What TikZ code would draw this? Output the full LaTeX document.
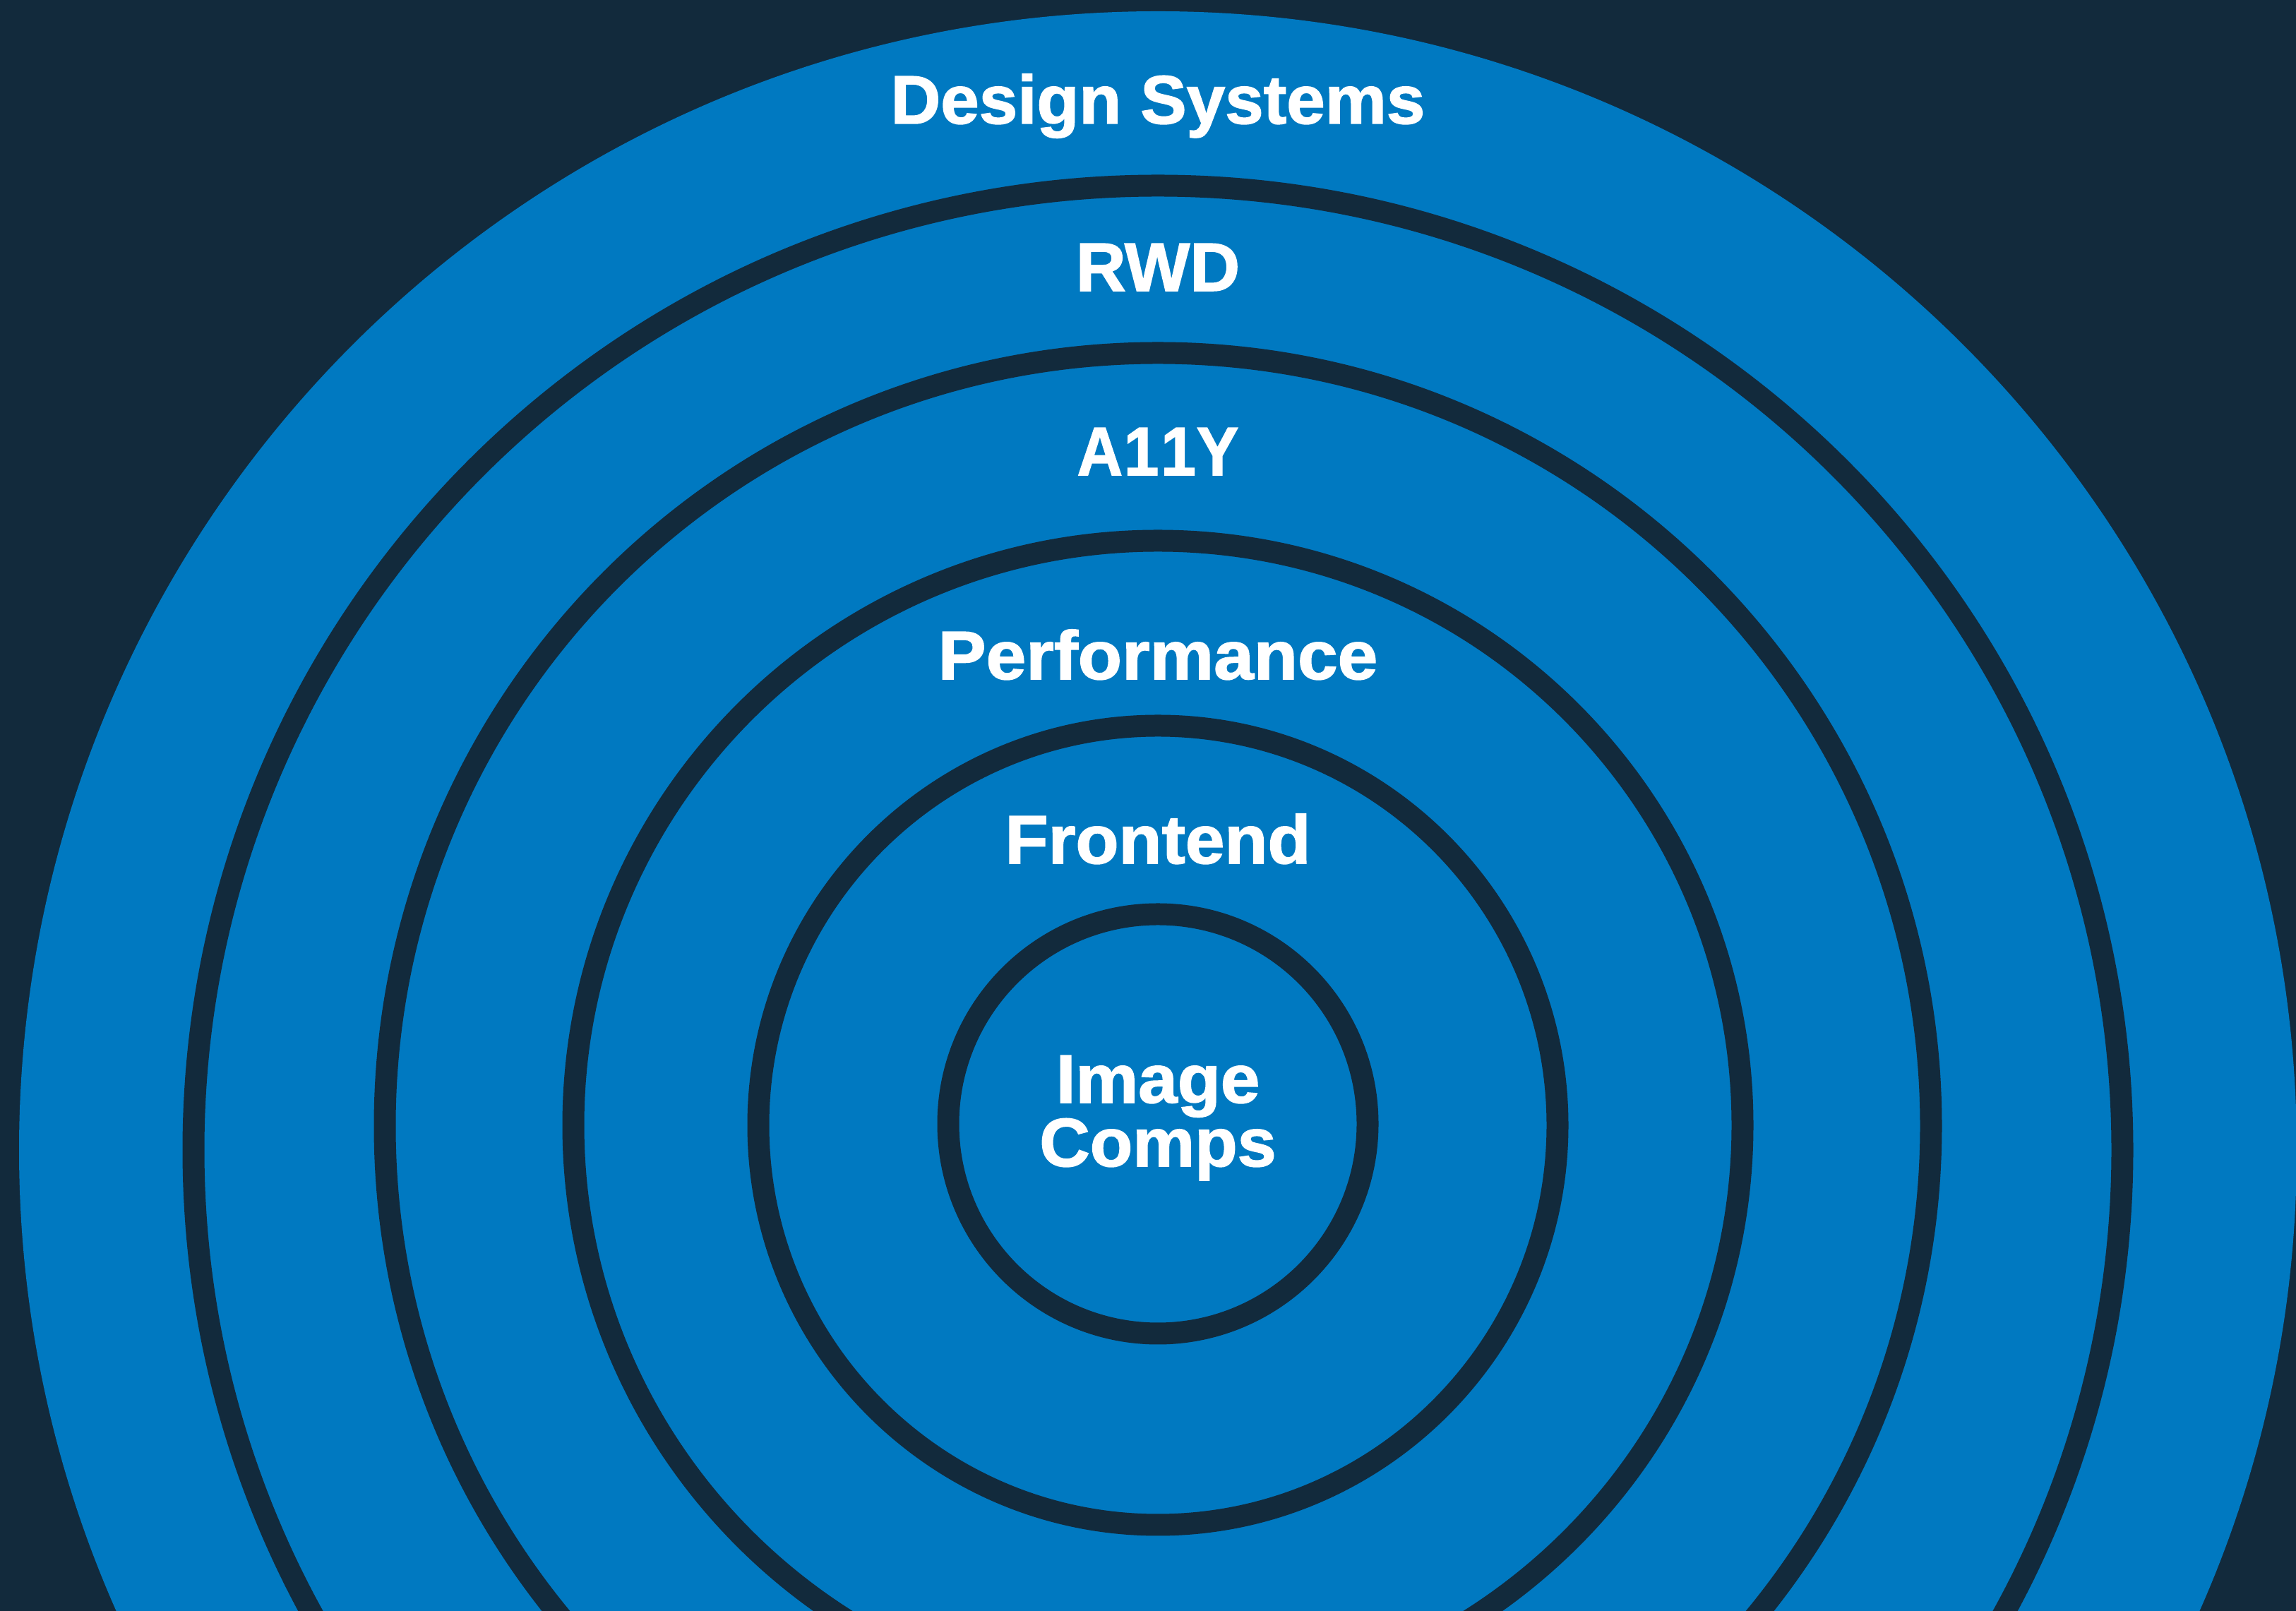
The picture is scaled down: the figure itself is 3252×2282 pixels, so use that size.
\documentclass[tikz,border=0pt]{standalone}
\usepackage{fontspec}
\setmainfont{Liberation Sans}[BoldFeatures={FakeBold=1.6}]
\definecolor{navy}{HTML}{122A3C}
\definecolor{ringblue}{HTML}{0079C1}
\newcommand{\wsc}[2]{\scalebox{#1}[1]{#2}}
\begin{document}
\begin{tikzpicture}[x=1pt,y=1pt,
  ring/.style={fill=ringblue,draw=navy,line width=31pt},
  lbl/.style={text=white,inner sep=0pt,anchor=base,font=\fontsize{97}{97}\selectfont\bfseries}]
\useasboundingbox (0,0) rectangle (3252,2282);
\fill[navy] (0,0) rectangle (3252,2282);
% outer disc
\fill[ringblue] (1640,653) circle[radius=1613pt];
% rings
\draw[ring] (1640,653) circle[radius=1366pt];
\draw[ring] (1640,687) circle[radius=1095pt];
\draw[ring] (1640,688) circle[radius=828pt];
\draw[ring] (1640,688) circle[radius=566pt];
\draw[ring] (1640,690) circle[radius=297pt];
% labels
\node[lbl] (ds) at (1640,2107) {\wsc{1.01}{Design Systems}};
\node[lbl] (rwd) at (1640,1870) {\wsc{1.01}{RWD}};
\node[lbl] (a11y) at (1640,1609) {\wsc{0.92}{A\kern2pt 1\kern3pt 1\kern1pt Y}};
\node[lbl] (perf) at (1640,1320) {\wsc{1.05}{Performance}};
\node[lbl] (front) at (1640,1059) {\wsc{1.03}{Frontend}};
\node[lbl] (img) at (1640,720) {\wsc{1.03}{Image}};
\node[lbl] (comps) at (1640,630) {\wsc{1.02}{Comps}};
\end{tikzpicture}
\end{document}
